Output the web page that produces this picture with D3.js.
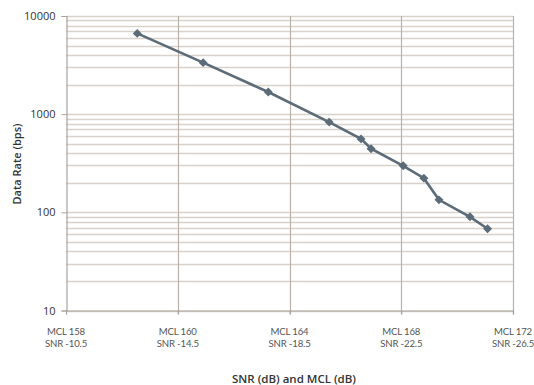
<!DOCTYPE html>
<html><head><meta charset="utf-8">
<script src="https://cdn.jsdelivr.net/npm/d3@7"></script>
<style>
html,body{margin:0;padding:0;background:#fff;}
svg{display:block;}
</style></head>
<body>
<svg id="chart" width="534" height="385"></svg>
<script>
// Data (x = SNR dB, y = data rate bps)
const snr = [-13.05, -15.41, -17.74, -19.92, -21.06, -21.42, -22.57, -23.31, -23.85, -24.96, -25.59];
const rate = [6650, 3350, 1680, 830, 560, 445, 298, 223, 134, 90, 68];
const xTickSnr = [-10.5, -14.5, -18.5, -22.5, -26.5];
const xTickMcl = ["MCL 158", "MCL 160", "MCL 164", "MCL 168", "MCL 172"];
const xTickSnrLabel = ["SNR -10.5", "SNR -14.5", "SNR -18.5", "SNR -22.5", "SNR -26.5"];
const yTicks = [10, 100, 1000, 10000];

const svg = d3.select("#chart");
const m = {l: 66, r: 513, t: 16, b: 310.5};

const x = d3.scaleLinear().domain([-10.5, -26.5]).range([m.l, m.r]);
const y = d3.scaleLog().domain([10, 10000]).range([m.b, m.t]);

// minor gridlines
const minor = [];
[10, 100, 1000].forEach(d => { for (let k = 2; k <= 9; k++) minor.push(d * k); });
svg.append("g").selectAll("line").data(minor.concat(yTicks)).join("line")
  .attr("x1", m.l).attr("x2", m.r)
  .attr("y1", d => Math.round(y(d)) + 0.5).attr("y2", d => Math.round(y(d)) + 0.5)
  .attr("stroke", "#d8d2cb").attr("stroke-width", 1.3);

// vertical gridlines
svg.append("g").selectAll("line").data(xTickSnr.slice(1)).join("line")
  .attr("x1", d => Math.round(x(d)) + 0.5).attr("x2", d => Math.round(x(d)) + 0.5)
  .attr("y1", m.t).attr("y2", m.b + 4)
  .attr("stroke", "#b9b2ab").attr("stroke-width", 1.2);

// axes
const yAxis = d3.axisLeft(y).tickValues(yTicks).tickFormat(d3.format("d")).tickSize(5).tickPadding(6);
const gy = svg.append("g").attr("transform", `translate(${m.l + 0.5},0)`).call(yAxis);
gy.select(".domain").attr("stroke", "#a9a39d").attr("stroke-width", 1.2);
gy.selectAll(".tick line").attr("stroke", "#a9a39d");
gy.selectAll(".tick text").attr("font-family", "Open Sans, sans-serif").attr("font-size", 11).attr("fill", "#333");

const xAxis = d3.axisBottom(x).tickValues(xTickSnr).tickFormat("").tickSize(4);
const gx = svg.append("g").attr("transform", `translate(0,${m.b})`).call(xAxis);
gx.select(".domain").attr("stroke", "#a9a39d").attr("stroke-width", 1.2);
gx.selectAll(".tick line").attr("stroke", "#a9a39d");

// two-line x labels
const lab = svg.append("g").selectAll("text").data(xTickSnr).join("text")
  .attr("x", d => x(d)).attr("y", 335)
  .attr("text-anchor", "middle")
  .attr("font-family", "Lato, sans-serif").attr("font-size", 9.6).attr("letter-spacing", -0.15).attr("fill", "#555");
lab.append("tspan").attr("x", d => x(d)).text((d, i) => xTickMcl[i]);
lab.append("tspan").attr("x", d => x(d)).attr("dy", 12).text((d, i) => xTickSnrLabel[i]);

// axis titles
svg.append("text").attr("x", 294).attr("y", 383).attr("text-anchor", "middle")
  .attr("font-family", "Open Sans, sans-serif").attr("font-size", 11.5).attr("font-weight", 600).attr("fill", "#333")
  .text("SNR (dB) and MCL (dB)");
svg.append("text").attr("transform", "translate(21,164) rotate(-90)").attr("text-anchor", "middle")
  .attr("font-family", "Open Sans, sans-serif").attr("font-size", 11).attr("font-weight", 600).attr("fill", "#333")
  .text("Data Rate (bps)");

// line
const pts = snr.map((s, i) => [s, rate[i]]);
svg.append("path").datum(pts)
  .attr("d", d3.line().x(d => x(d[0])).y(d => y(d[1])))
  .attr("fill", "none").attr("stroke", "#5b6b78").attr("stroke-width", 2.6);

svg.append("g").selectAll("path").data(pts).join("path")
  .attr("d", d3.symbol(d3.symbolSquare, 40))
  .attr("transform", d => `translate(${x(d[0])},${y(d[1])}) rotate(45)`)
  .attr("fill", "#5b6b78");
</script>
</body></html>
